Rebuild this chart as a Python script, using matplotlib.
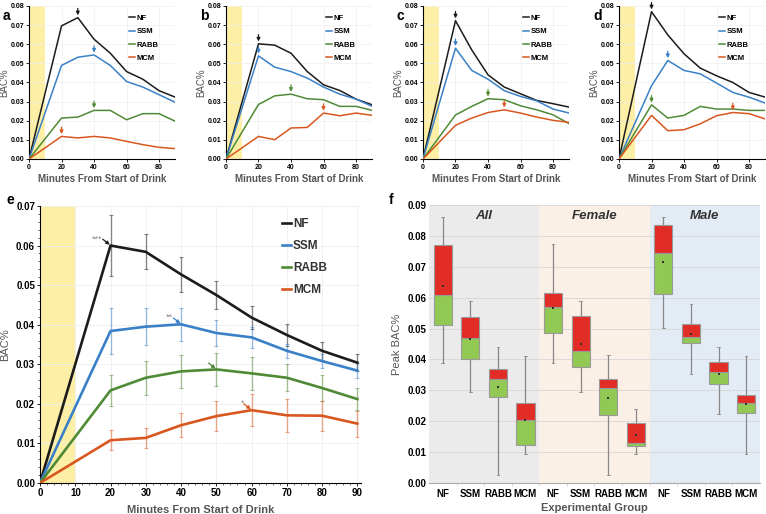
import numpy as np
import matplotlib.pyplot as plt
from matplotlib.ticker import MultipleLocator, FormatStrFormatter

plt.rcParams['font.family'] = ['Liberation Sans', 'DejaVu Sans']

minutes = [0, 20, 30, 40, 50, 60, 70, 80, 90]
groups = ['NF', 'SSM', 'RABB', 'MCM']
line_colors = ['#1c1c1c', '#3a80c7', '#4f8a36', '#d9571f']
yellow = '#fdf0a6'
gray_txt = '#555555'

# panel a
a_nf   = [0, 0.0696, 0.0739, 0.0626, 0.0553, 0.0457, 0.0417, 0.0357, 0.0323]
a_ssm  = [0, 0.0489, 0.0532, 0.0544, 0.0489, 0.0405, 0.0376, 0.0336, 0.0296]
a_rabb = [0, 0.0214, 0.0219, 0.0254, 0.0254, 0.0205, 0.0237, 0.0237, 0.0197]
a_mcm  = [0, 0.0118, 0.0110, 0.0118, 0.0110, 0.0092, 0.0075, 0.0061, 0.0054]
# panel b
b_nf   = [0, 0.0602, 0.0595, 0.0553, 0.0457, 0.0388, 0.0358, 0.0313, 0.0283]
b_ssm  = [0, 0.0539, 0.0480, 0.0457, 0.0423, 0.0376, 0.0339, 0.0313, 0.0275]
b_rabb = [0, 0.0285, 0.0330, 0.0339, 0.0315, 0.0310, 0.0275, 0.0275, 0.0254]
b_mcm  = [0, 0.0118, 0.0101, 0.0162, 0.0165, 0.0240, 0.0226, 0.0240, 0.0228]
# panel c
c_nf   = [0, 0.0723, 0.0570, 0.0440, 0.0376, 0.0341, 0.0306, 0.0289, 0.0271]
c_ssm  = [0, 0.0579, 0.0463, 0.0417, 0.0357, 0.0327, 0.0304, 0.0261, 0.0240]
c_rabb = [0, 0.0230, 0.0275, 0.0315, 0.0310, 0.0278, 0.0257, 0.0231, 0.0184]
c_mcm  = [0, 0.0176, 0.0214, 0.0243, 0.0257, 0.0240, 0.0219, 0.0202, 0.0191]
# panel d
d_nf   = [0, 0.0770, 0.0649, 0.0550, 0.0475, 0.0435, 0.0400, 0.0348, 0.0323]
d_ssm  = [0, 0.0383, 0.0515, 0.0463, 0.0445, 0.0397, 0.0348, 0.0323, 0.0292]
d_rabb = [0, 0.0283, 0.0214, 0.0228, 0.0275, 0.0261, 0.0261, 0.0254, 0.0254]
d_mcm  = [0, 0.0228, 0.0148, 0.0153, 0.0184, 0.0226, 0.0243, 0.0237, 0.0209]

# panel e (means and error bars from 20 min on)
e_nf   = [0, 0.0600, 0.0584, 0.0527, 0.0475, 0.0418, 0.0374, 0.0334, 0.0304]
e_ssm  = [0, 0.0384, 0.0395, 0.0401, 0.0379, 0.0368, 0.0334, 0.0308, 0.0284]
e_rabb = [0, 0.0234, 0.0266, 0.0282, 0.0287, 0.0277, 0.0266, 0.0240, 0.0212]
e_mcm  = [0, 0.0108, 0.0114, 0.0146, 0.0169, 0.0184, 0.0171, 0.0170, 0.0150]
e_nf_err   = [0.0076, 0.0044, 0.0044, 0.0035, 0.0028, 0.0027, 0.0022, 0.0021]
e_ssm_err  = [0.0057, 0.0046, 0.0041, 0.0033, 0.0026, 0.0018, 0.0017, 0.0018]
e_rabb_err = [0.0040, 0.0043, 0.0041, 0.0041, 0.0041, 0.0034, 0.0032, 0.0027]
e_mcm_err  = [0.0025, 0.0026, 0.0031, 0.0038, 0.0041, 0.0041, 0.0038, 0.0033]
e_stars = ['***', '**', '', '*']

# panel f (All, Female, Male x NF, SSM, RABB, MCM)
sections = ['All', 'Female', 'Male']
f_labels = groups * 3
f_wlo  = [0.0390, 0.0294, 0.0027, 0.0095, 0.0390, 0.0294, 0.0027, 0.0095, 0.0501, 0.0354, 0.0225, 0.0095]
f_q1   = [0.0511, 0.0402, 0.0280, 0.0124, 0.0487, 0.0377, 0.0221, 0.0120, 0.0613, 0.0454, 0.0322, 0.0228]
f_med  = [0.0609, 0.0471, 0.0337, 0.0203, 0.0571, 0.0428, 0.0308, 0.0130, 0.0745, 0.0473, 0.0359, 0.0259]
f_q3   = [0.0770, 0.0539, 0.0369, 0.0259, 0.0616, 0.0541, 0.0338, 0.0195, 0.0835, 0.0516, 0.0392, 0.0286]
f_whi  = [0.0860, 0.0590, 0.0440, 0.0410, 0.0775, 0.0590, 0.0415, 0.0240, 0.0860, 0.0579, 0.0440, 0.0410]
f_mean = [0.0638, 0.0465, 0.0311, 0.0203, 0.0568, 0.0450, 0.0275, 0.0154, 0.0716, 0.0482, 0.0352, 0.0257]
section_bg = ['#ebebeb', '#fbf0e5', '#e3ebf5']

fig = plt.figure(figsize=(7.66, 5.14), dpi=100)


def style_axes(ax, fs):
    for s in ['top', 'right']:
        ax.spines[s].set_visible(False)
    ax.spines['left'].set_linewidth(0.8)
    ax.spines['bottom'].set_linewidth(0.8)
    ax.tick_params(labelsize=fs, width=0.6, length=2, pad=1.5)
    for t in ax.get_xticklabels() + ax.get_yticklabels():
        t.set_fontweight('bold')


def draw_small(ax, series):
    ax.axvspan(0, 10, color=yellow, lw=0, zorder=0)
    for name, vals, c in zip(groups, series, line_colors):
        ax.plot(minutes, vals, color=c, lw=1.1, label=name, zorder=3)
        k = int(np.argmax(vals))
        ax.annotate('', xy=(minutes[k], vals[k] + 0.0012),
                    xytext=(minutes[k], vals[k] + 0.0048),
                    arrowprops=dict(arrowstyle='-|>', color=c, lw=0.9,
                                    mutation_scale=5, shrinkA=0, shrinkB=0))
    ax.set_xlim(0, 90)
    ax.set_ylim(0, 0.08)
    ax.set_xticks([0, 20, 40, 60, 80])
    ax.yaxis.set_major_locator(MultipleLocator(0.01))
    ax.yaxis.set_major_formatter(FormatStrFormatter('%.2f'))
    ax.grid(color='#eeeeee', lw=0.5, zorder=0)
    ax.set_axisbelow(True)
    style_axes(ax, 5)
    ax.set_xlabel('Minutes From Start of Drink', fontsize=7, color=gray_txt,
                  fontweight='bold', labelpad=2)
    ax.set_ylabel('BAC%', fontsize=7, color=gray_txt, labelpad=0.5)
    leg = ax.legend(loc='upper left', bbox_to_anchor=(0.65, 0.975), frameon=False,
                    fontsize=5.5, handlelength=0.8, handletextpad=0.2,
                    labelspacing=0.8, borderaxespad=0.2)
    for t in leg.get_texts():
        t.set_fontweight('bold')


small = [
    ('a', 0.0379, [a_nf, a_ssm, a_rabb, a_mcm]),
    ('b', 0.2950, [b_nf, b_ssm, b_rabb, b_mcm]),
    ('c', 0.5522, [c_nf, c_ssm, c_rabb, c_mcm]),
    ('d', 0.8081, [d_nf, d_ssm, d_rabb, d_mcm]),
]
for letter, left, series in small:
    ax = fig.add_axes([left, 0.6907, 0.191, 0.2977])
    draw_small(ax, series)
    fig.text(left - 0.034, 0.968, letter, fontsize=10, fontweight='bold', va='center')

# panel e
ax = fig.add_axes([0.0522, 0.0603, 0.419, 0.539])
ax.axvspan(0, 10, color=yellow, lw=0, zorder=0)
e_series = [e_nf, e_ssm, e_rabb, e_mcm]
e_errs = [e_nf_err, e_ssm_err, e_rabb_err, e_mcm_err]
for name, vals, err, c, star in zip(groups, e_series, e_errs, line_colors, e_stars):
    ax.errorbar(minutes[1:], vals[1:], yerr=err, fmt='none', ecolor=c, alpha=0.5,
                elinewidth=1, capsize=1.5, capthick=0.8, zorder=2)
    ax.plot(minutes, vals, color=c, lw=1.9, label=name, zorder=3)
    k = int(np.argmax(vals))
    ax.annotate('', xy=(minutes[k] - 0.2, vals[k] + 0.0002),
                xytext=(minutes[k] - 2.2, vals[k] + 0.0016),
                arrowprops=dict(arrowstyle='-|>', color=c, lw=0.9,
                                mutation_scale=5, shrinkA=0, shrinkB=0))
    if star:
        ax.text(minutes[k] - 2.2, vals[k] + 0.0017, star, fontsize=6.5, color='#888888',
                ha='right', va='center')
ax.set_xlim(0, 91)
ax.set_ylim(0, 0.07)
ax.set_xticks(range(0, 91, 10))
ax.xaxis.set_minor_locator(MultipleLocator(2))
ax.yaxis.set_major_locator(MultipleLocator(0.01))
ax.yaxis.set_minor_locator(MultipleLocator(0.002))
ax.yaxis.set_major_formatter(FormatStrFormatter('%.2f'))
ax.grid(color='#eeeeee', lw=0.6, zorder=0)
ax.set_axisbelow(True)
style_axes(ax, 7)
ax.tick_params(which='minor', length=1.2, width=0.4)
ax.set_xlabel('Minutes From Start of Drink', fontsize=8, color=gray_txt,
              fontweight='bold', labelpad=5)
ax.set_ylabel('BAC%', fontsize=8, color=gray_txt, labelpad=4)
leg = ax.legend(loc='upper left', bbox_to_anchor=(0.72, 0.995), frameon=False,
                fontsize=8.5, handlelength=0.8, handletextpad=0.15, labelspacing=0.85)
for t in leg.get_texts():
    t.set_fontweight('bold')
    t.set_color('#333333')
fig.text(0.008, 0.611, 'e', fontsize=10, fontweight='bold', va='center')

# panel f
ax = fig.add_axes([0.560, 0.0603, 0.432, 0.5409])
pos = np.arange(len(f_labels))
for i, (name, bg) in enumerate(zip(sections, section_bg)):
    ax.axvspan(4 * i - 0.5, 4 * i + 3.5, color=bg, lw=0, zorder=0)
    ax.text(4 * i + 1.5, 0.0863, name, ha='center', va='center', fontsize=9.5,
            fontweight='bold', fontstyle='italic', color='#333333')
ax.vlines(pos, f_wlo, f_whi, color='#888888', lw=0.9, zorder=2)
ax.plot([pos - 0.05, pos + 0.05], [f_wlo, f_wlo], color='#888888', lw=0.6, zorder=2)
ax.plot([pos - 0.05, pos + 0.05], [f_whi, f_whi], color='#888888', lw=0.6, zorder=2)
q1 = np.array(f_q1)
med = np.array(f_med)
q3 = np.array(f_q3)
ax.bar(pos, med - q1, bottom=q1, width=0.66, color='#92c854', edgecolor='#9a9a9a',
       lw=0.8, zorder=3)
ax.bar(pos, q3 - med, bottom=med, width=0.66, color='#e22d26', edgecolor='#9a9a9a',
       lw=0.8, zorder=3)
ax.scatter(pos, f_mean, s=4, marker='s', color='#333333', zorder=4, lw=0)
ax.set_xlim(-0.5, 11.5)
ax.set_ylim(0, 0.09)
ax.set_xticks(pos)
ax.set_xticklabels(f_labels)
ax.set_xticks(np.arange(0.5, 11.5, 1), minor=True)
ax.yaxis.set_major_locator(MultipleLocator(0.01))
ax.yaxis.set_major_formatter(FormatStrFormatter('%.2f'))
ax.grid(axis='y', color='#d6d6d6', lw=0.6, zorder=1)
ax.set_axisbelow(True)
style_axes(ax, 7)
ax.spines['left'].set_visible(False)
ax.spines['bottom'].set_color('#aaaaaa')
ax.tick_params(axis='x', which='major', length=0, pad=4)
ax.tick_params(axis='x', which='minor', length=2.5, width=0.5, color='#cccccc')
ax.tick_params(axis='y', length=0)
ax.set_xlabel('Experimental Group', fontsize=8, color=gray_txt,
              fontweight='bold', labelpad=3)
ax.set_ylabel('Peak BAC%', fontsize=8, color=gray_txt, labelpad=4)
fig.text(0.507, 0.611, 'f', fontsize=10, fontweight='bold', va='center')

fig.savefig('out.png', dpi=100)
